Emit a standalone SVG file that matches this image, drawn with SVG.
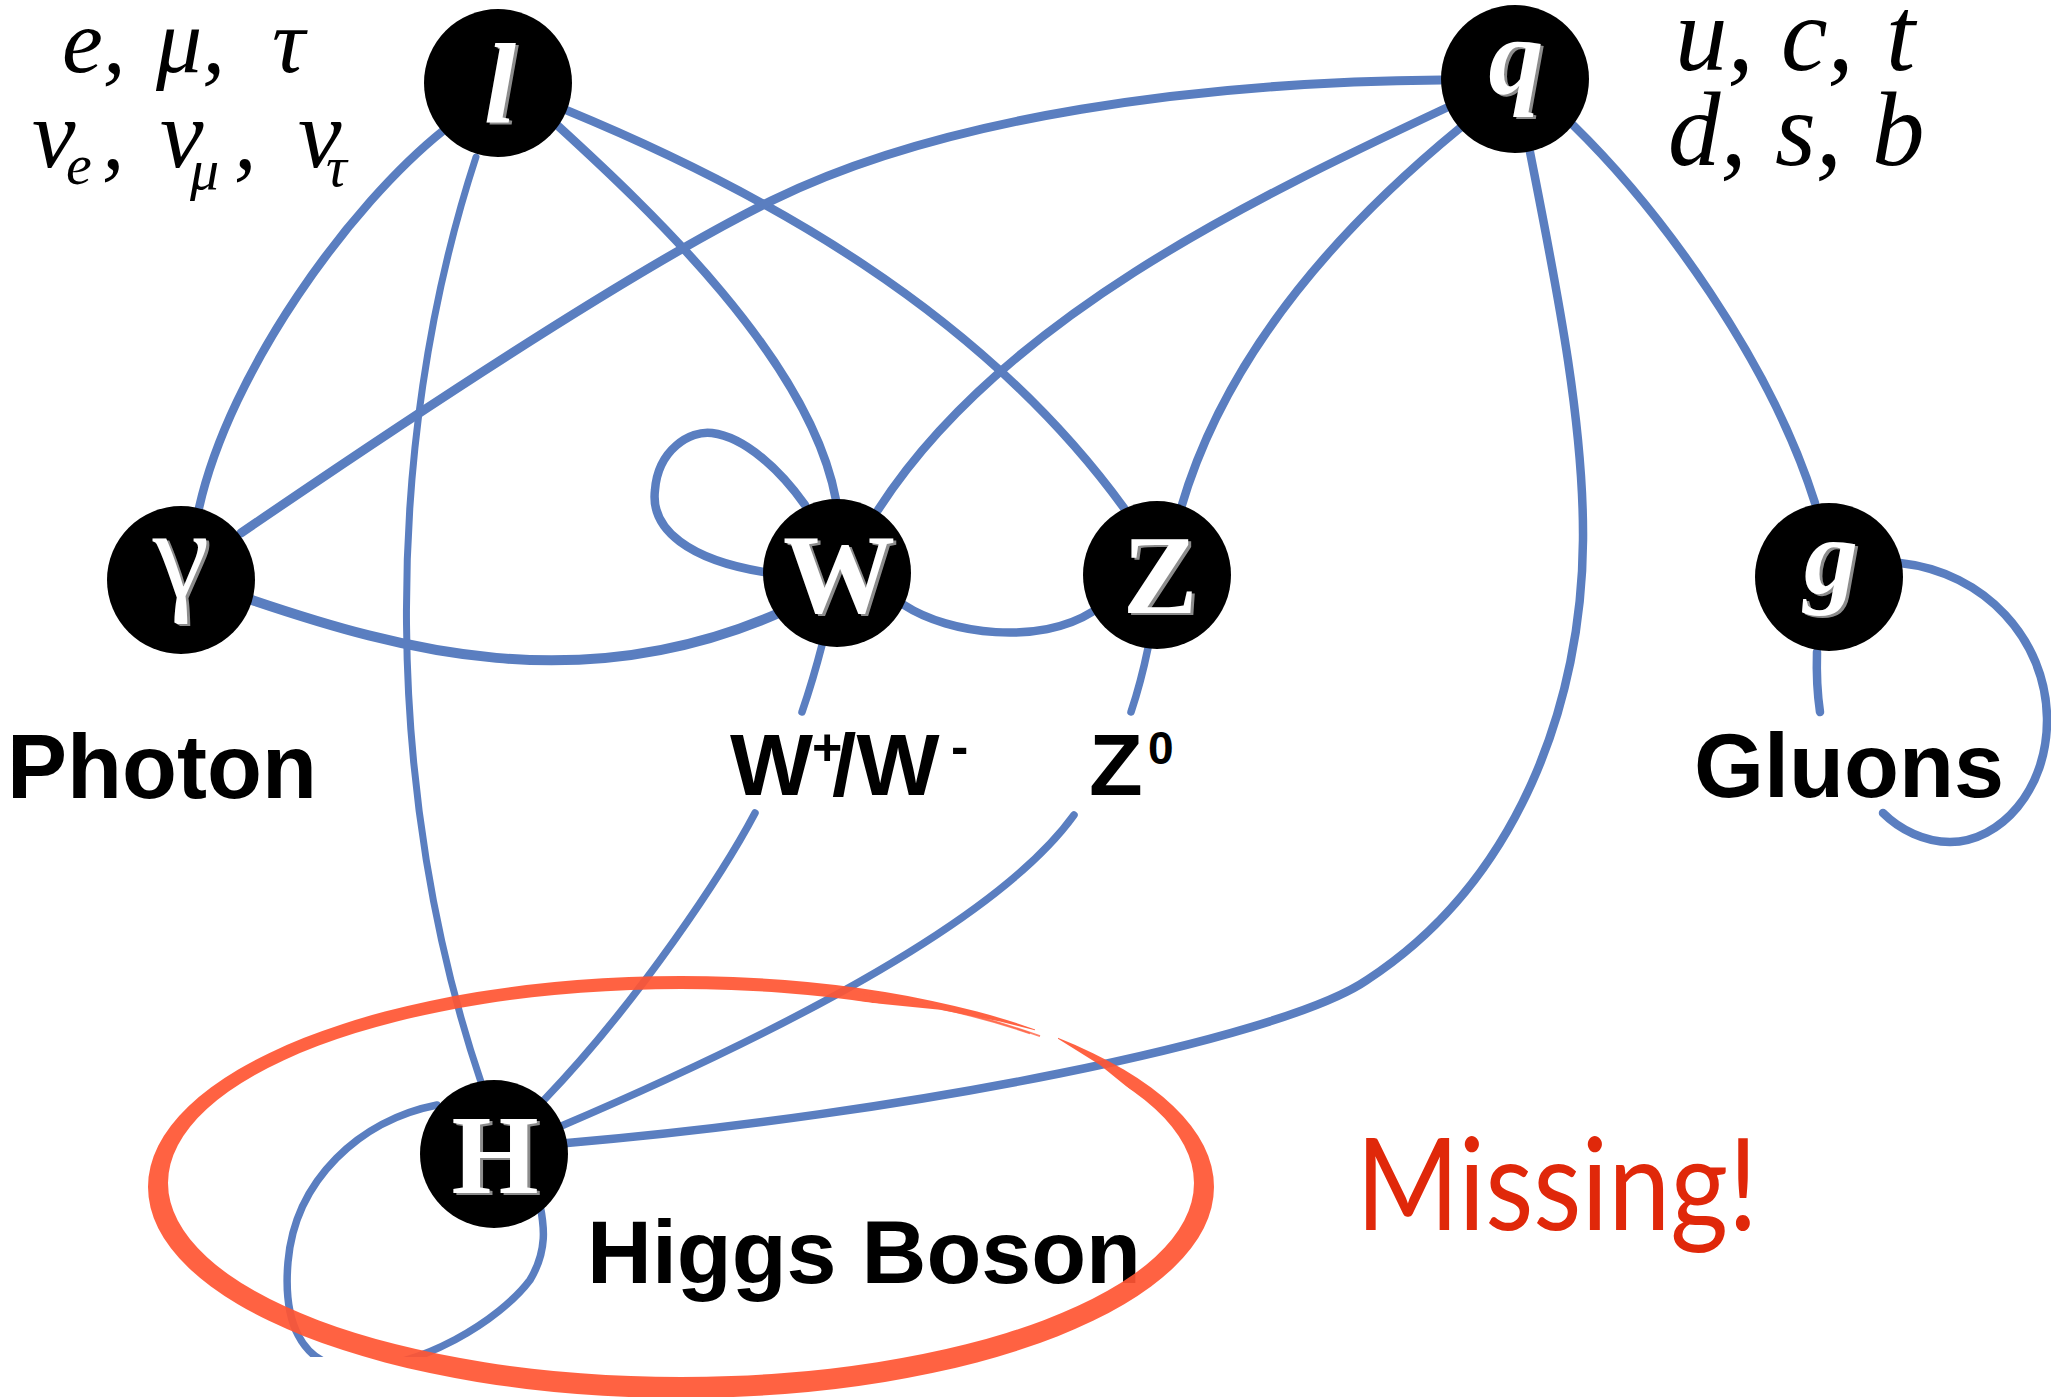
<svg xmlns="http://www.w3.org/2000/svg" width="2051" height="1397" viewBox="0 0 2051 1397">
  <defs>
    <style>
      .edge { fill: none; stroke: #5a7ec0; stroke-width: 8.5; stroke-linecap: round; stroke-linejoin: round; }
      .node circle { fill: #000; }
      .sym { font-family: "Liberation Serif", "DejaVu Serif", serif; text-anchor: middle; }
      .sh { fill: #8c8c8c; }
      .fg { fill: #ffffff; }
      .lbl { font-family: "Liberation Sans", Arial, sans-serif; font-weight: bold; fill: #000; }
      .math { font-family: "Liberation Serif", "DejaVu Serif", serif; font-style: italic; fill: #000; }
      .hair { fill: none; stroke: #ff5533; stroke-width: 1.8; opacity: 0.8; }
    </style>
    <clipPath id="hclip"><rect x="0" y="0" width="2051" height="1357"/></clipPath>
    <mask id="ellmask" maskUnits="userSpaceOnUse" x="0" y="0" width="2051" height="1397">
      <rect x="0" y="0" width="2051" height="1397" fill="#fff"/>
      <polygon points="850,1000.8 940,1009.7 1000,1021.5 1035,1030.2 1035,985 1058,985 1058,1038.8 1100,1065 1140,1097.4 681,1184" fill="#000"/>
    </mask>
  </defs>

  <rect x="0" y="0" width="2051" height="1397" fill="#fff"/>

  <g id="connectors">
    <path id="e-l-gamma" class="edge" d="M 444,130 C 350,205 230,370 199,508"/>
    <path id="e-l-H" class="edge" style="stroke-width:7" d="M 476,157 C 380,450 385,800 481,1082"/>
    <path id="e-l-W" class="edge" d="M 557,125 C 650,210 810,360 836,500"/>
    <path id="e-l-Z" class="edge" d="M 566,110 C 760,190 980,310 1124,508"/>
    <path id="e-q-gamma" class="edge" style="stroke-width:9" d="M 1441,80 C 1200,82 945,116 773,200 C 650,260 450,390 241,533"/>
    <path id="e-q-W" class="edge" d="M 1446,108 C 1250,200 1000,320 878,510"/>
    <path id="e-q-Z" class="edge" d="M 1460,128 C 1360,210 1230,340 1181,508"/>
    <path id="e-q-H" class="edge" d="M 1530,152 C 1555,280 1584,420 1583,540 C 1582,700 1520,880 1367,980 C 1280,1040 900,1115 567,1143"/>
    <path id="e-q-g" class="edge" d="M 1573,125 C 1660,210 1770,360 1815,503"/>
    <path id="e-gamma-W" class="edge" style="stroke-width:10" d="M 252,600 C 400,650 580,700 779,613"/>
    <path id="e-W-W" class="edge" d="M 764,572 C 690,560 650,530 655,490 C 658,450 690,430 712,433 C 745,437 780,470 805,505"/>
    <path id="e-W-Z" class="edge" d="M 904,605 C 950,635 1040,645 1092,612"/>
    <path id="e-W-H-a" class="edge" style="stroke-width:7.5" d="M 822,645 Q 813,680 802,712"/>
    <path id="e-W-H-b" class="edge" style="stroke-width:7.5" d="M 755,813 C 725,870 640,1000 544,1100"/>
    <path id="e-Z-H-a" class="edge" style="stroke-width:7.5" d="M 1148,648 Q 1141,682 1131,712"/>
    <path id="e-Z-H-b" class="edge" style="stroke-width:7.5" d="M 1074,815 C 1020,890 880,990 559,1127"/>
    <path id="e-H-H" class="edge" style="stroke-width:7.5" clip-path="url(#hclip)" d="M 437,1105 C 360,1120 295,1180 288,1262 C 283,1320 300,1365 350,1368 C 420,1370 500,1320 530,1280 C 548,1250 544,1225 540,1205"/>
    <path id="e-g-g-a" class="edge" d="M 1900,563 C 1985,572 2046,640 2047,718 C 2048,790 2000,842 1950,842 C 1925,842 1900,830 1883,813"/>
    <path id="e-g-g-b" class="edge" d="M 1817,652 Q 1816,685 1820,712"/>
  </g>

  <g id="node-l" class="node">
    <circle cx="498" cy="83" r="74"/>
    <text class="sym sh" x="503" y="125" font-size="115" font-style="italic" font-weight="bold">l</text>
    <text class="sym fg" x="500" y="123" font-size="115" font-style="italic" font-weight="bold">l</text>
  </g>
  <g id="node-q" class="node">
    <circle cx="1515" cy="79" r="74"/>
    <text class="sym sh" x="1519" y="96" font-size="110" font-style="italic" font-weight="bold">q</text>
    <text class="sym fg" x="1516" y="94" font-size="110" font-style="italic" font-weight="bold">q</text>
  </g>
  <g id="node-gamma" class="node">
    <circle cx="181" cy="580" r="74"/>
    <text class="sym sh" x="184" y="599" font-size="128">γ</text>
    <text class="sym fg" x="181" y="597" font-size="128">γ</text>
  </g>
  <g id="node-W" class="node">
    <circle cx="837" cy="573" r="74"/>
    <text class="sym sh" x="842" y="614" font-size="112" font-weight="bold">W</text>
    <text class="sym fg" x="839" y="612" font-size="112" font-weight="bold">W</text>
  </g>
  <g id="node-Z" class="node">
    <circle cx="1157" cy="575" r="74"/>
    <text class="sym sh" x="1163" y="615" font-size="112" font-weight="bold">Z</text>
    <text class="sym fg" x="1160" y="613" font-size="112" font-weight="bold">Z</text>
  </g>
  <g id="node-g" class="node">
    <circle cx="1829" cy="577" r="74"/>
    <text class="sym sh" x="1834" y="595" font-size="108" font-style="italic" font-weight="bold">g</text>
    <text class="sym fg" x="1831" y="593" font-size="108" font-style="italic" font-weight="bold">g</text>
  </g>
  <g id="node-H" class="node">
    <circle cx="494" cy="1154" r="74"/>
    <text class="sym sh" x="498" y="1195" font-size="112" font-weight="bold">H</text>
    <text class="sym fg" x="495" y="1193" font-size="112" font-weight="bold">H</text>
  </g>

  <g id="labels">
    <text class="math" font-size="92"><tspan x="62" y="72">e,</tspan><tspan x="156" y="72">μ,</tspan><tspan x="272" y="72">τ</tspan></text>
    <text class="math" font-size="98"><tspan x="32" y="167">ν</tspan><tspan x="66" y="184" font-size="58">e</tspan><tspan x="102" y="168" font-size="90">,</tspan><tspan x="160" y="167">ν</tspan><tspan x="190" y="189" font-size="58">μ</tspan><tspan x="234" y="168" font-size="90">,</tspan><tspan x="298" y="167">ν</tspan><tspan x="326" y="186" font-size="58">τ</tspan></text>
    <text class="math" font-size="105"><tspan x="1675" y="70">u,</tspan><tspan x="1781" y="70">c,</tspan><tspan x="1886" y="70">t</tspan></text>
    <text class="math" font-size="105"><tspan x="1668" y="165">d,</tspan><tspan x="1775" y="165">s,</tspan><tspan x="1872" y="165">b</tspan></text>
    <text class="lbl" x="7" y="798" font-size="90">Photon</text>
    <text class="lbl" font-size="88"><tspan x="730" y="795">W</tspan><tspan x="812" y="765" font-size="52">+</tspan><tspan x="832" y="795">/W</tspan><tspan x="951" y="764" font-size="52">-</tspan></text>
    <text class="lbl" font-size="88"><tspan x="1089" y="795">Z</tspan><tspan x="1148" y="764" font-size="46">0</tspan></text>
    <text class="lbl" x="1694" y="797" font-size="90">Gluons</text>
    <text class="lbl" x="587" y="1283" font-size="89" textLength="554" lengthAdjust="spacingAndGlyphs">Higgs Boson</text>
    <text x="1356" y="1230" font-family="Lato, 'Open Sans', 'Liberation Sans', sans-serif" font-size="128" fill="#e0280a" textLength="402" lengthAdjust="spacingAndGlyphs">Missing!</text>
  </g>

  <g id="highlight" opacity="0.92">
    <path fill="#ff5533" fill-rule="evenodd" mask="url(#ellmask)" d="M 148,1187 A 533 211 0 1 0 1214,1187 A 533 211 0 1 0 148,1187 Z M 168,1183 A 513 194 0 1 0 1194,1183 A 513 194 0 1 0 168,1183 Z"/>
    <path class="hair" d="M 860,993.3 A 527 206 0 0 1 1040,1036.2"/>
    <path class="hair" d="M 870,995.6 A 525 203 0 0 1 1030,1033.4"/>
  </g>
</svg>
